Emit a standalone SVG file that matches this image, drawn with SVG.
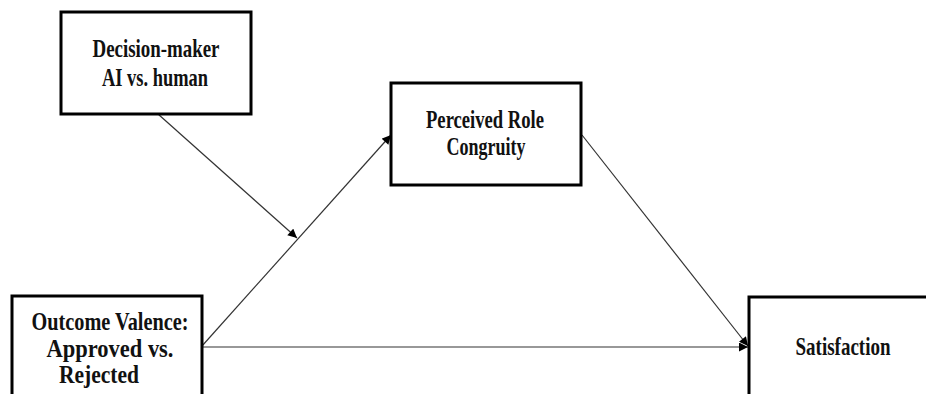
<svg xmlns="http://www.w3.org/2000/svg" width="926" height="394" viewBox="0 0 926 394">
<style>
.box{fill:#fff;stroke:#000;stroke-width:3}
.lbl{font-family:"Liberation Serif","Times New Roman",serif;font-weight:bold;font-size:24.5px;fill:#111;text-anchor:middle}
.con{stroke:#333;stroke-width:1.2;fill:none}
</style>
<defs>
<marker id="ah" viewBox="0 0 10 10" refX="10" refY="5" markerWidth="10" markerHeight="9" markerUnits="userSpaceOnUse" orient="auto">
<path d="M0,0 L10,5 L0,10 Z" fill="#000"/>
</marker>
</defs>
<rect width="926" height="394" fill="#fff"/>
<g id="connectors">
<line class="con" x1="158" y1="114" x2="297" y2="238" marker-end="url(#ah)"/>
<line class="con" x1="202" y1="346" x2="391" y2="135" marker-end="url(#ah)"/>
<line class="con" x1="582" y1="135" x2="748" y2="346" marker-end="url(#ah)"/>
<line class="con" x1="202" y1="347" x2="748" y2="347" marker-end="url(#ah)"/>
</g>
<g id="decision-maker">
<rect class="box" x="61" y="12" width="190" height="102"/>
<text class="lbl" x="156" y="57" textLength="127" lengthAdjust="spacingAndGlyphs">Decision-maker</text>
<text class="lbl" x="155" y="86" textLength="106" lengthAdjust="spacingAndGlyphs">AI vs. human</text>
</g>
<g id="role-congruity">
<rect class="box" x="391" y="83" width="190" height="102"/>
<text class="lbl" x="485" y="128" textLength="118" lengthAdjust="spacingAndGlyphs">Perceived Role</text>
<text class="lbl" x="486" y="155" textLength="79" lengthAdjust="spacingAndGlyphs">Congruity</text>
</g>
<g id="outcome-valence">
<rect class="box" x="12" y="296" width="190" height="110"/>
<text class="lbl" x="110" y="330" textLength="157" lengthAdjust="spacingAndGlyphs">Outcome Valence:</text>
<text class="lbl" x="110" y="357" textLength="127" lengthAdjust="spacingAndGlyphs">Approved vs.</text>
<text class="lbl" x="99" y="383" textLength="80" lengthAdjust="spacingAndGlyphs">Rejected</text>
</g>
<g id="satisfaction">
<rect class="box" x="749" y="297" width="190" height="110"/>
<text class="lbl" x="843" y="355" font-size="23" textLength="95" lengthAdjust="spacingAndGlyphs">Satisfaction</text>
</g>
</svg>
